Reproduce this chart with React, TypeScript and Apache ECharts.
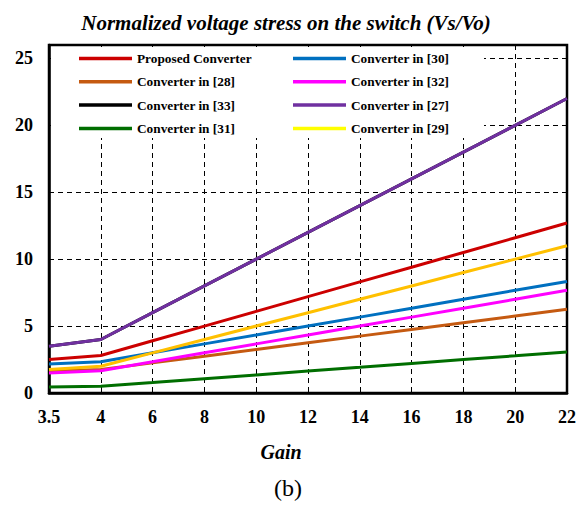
import React, { useEffect, useRef } from "react";
import * as echarts from "echarts";

const gains = ["3.5", "4", "6", "8", "10", "12", "14", "16", "18", "20", "22"];
const proposed = [2.5, 2.8, 3.9, 5.0, 6.1, 7.2, 8.3, 9.4, 10.5, 11.6, 12.7];
const conv30 = [2.17, 2.33, 3.0, 3.67, 4.33, 5.0, 5.67, 6.33, 7.0, 7.67, 8.33];
const conv28 = [1.63, 1.75, 2.25, 2.75, 3.25, 3.75, 4.25, 4.75, 5.25, 5.75, 6.25];
const conv32 = [1.5, 1.67, 2.33, 3.0, 3.67, 4.33, 5.0, 5.67, 6.33, 7.0, 7.67];
const conv33 = [3.5, 4, 6, 8, 10, 12, 14, 16, 18, 20, 22];
const conv27 = [3.5, 4, 6, 8, 10, 12, 14, 16, 18, 20, 22];
const conv31 = [0.45, 0.5, 0.78, 1.07, 1.35, 1.64, 1.92, 2.21, 2.5, 2.78, 3.07];
const conv29 = [1.75, 2, 3, 4, 5, 6, 7, 8, 9, 10, 11];
const yTicks = [0, 5, 10, 15, 20, 25];

const FONT = "'Liberation Serif', 'Times New Roman', serif";

export default function App() {
  const ref = useRef<HTMLDivElement>(null);
  useEffect(() => {
    document.body.style.margin = "0";
    if (!ref.current) return;
    const chart = echarts.init(ref.current, null, { renderer: "svg" });
    const mk = (name: string, data: number[], color: string) => ({
      name,
      type: "line",
      data,
      symbol: "none",
      lineStyle: { color, width: 3 },
      itemStyle: { color },
    });
    const legendBase = {
      orient: "vertical",
      top: 52,
      padding: 0,
      icon: "rect",
      itemWidth: 53,
      itemHeight: 3.5,
      itemGap: 10.3,
      textStyle: { fontFamily: FONT, fontWeight: "bold", fontSize: 13.3, color: "#000", lineHeight: 13 },
    };
    chart.setOption({
      animation: false,
      title: {
        text: "Normalized voltage stress on the switch (Vs/Vo)",
        left: 281,
        textAlign: "center",
        top: 7,
        textStyle: { fontFamily: FONT, fontWeight: "bold", fontStyle: "italic", fontSize: 21, color: "#000" },
      },
      grid: {
        left: 49,
        right: 20,
        top: 45,
        bottom: 113,
        show: true,
        borderColor: "#000",
        borderWidth: 2.5,
        backgroundColor: "transparent",
      },
      legend: [
        {
          ...legendBase,
          left: 79,
          data: ["Proposed Converter", "Converter in [28]", "Converter in [33]", "Converter in [31]"],
        },
        {
          ...legendBase,
          left: 293,
          data: [
            "Converter in [30]",
            "Converter in [32]",
            "Converter in [27]",
            { name: "Converter in [29]", itemStyle: { color: "#FFFF00" }, lineStyle: { color: "#FFFF00" } },
          ],
        },
      ],
      graphic: [
        { type: "rect", z: 1, shape: { x: 51, y: 47, width: 433, height: 91 }, style: { fill: "#fff" } },
        {
          type: "text",
          x: 281,
          y: 452,
          style: {
            text: "Gain",
            font: `italic bold 20px ${FONT}`,
            fill: "#000",
            align: "center",
            verticalAlign: "middle",
          },
        },
        {
          type: "text",
          x: 288,
          y: 488,
          style: { text: "(b)", font: `24px ${FONT}`, fill: "#000", align: "center", verticalAlign: "middle" },
        },
      ],
      xAxis: {
        type: "category",
        data: gains,
        boundaryGap: false,
        axisLine: { lineStyle: { color: "#000", width: 2.5 } },
        axisTick: { show: false },
        axisLabel: { fontFamily: FONT, fontWeight: "bold", fontSize: 18, color: "#000", margin: 15 },
        splitLine: { show: true, lineStyle: { color: "#000", type: [5, 4], width: 1 } },
      },
      yAxis: {
        type: "value",
        min: 0,
        max: 26,
        interval: 5,
        axisLine: { show: true, lineStyle: { color: "#000", width: 2.5 } },
        axisTick: { show: false },
        axisLabel: {
          fontFamily: FONT,
          fontWeight: "bold",
          fontSize: 18,
          color: "#000",
          margin: 16,
          formatter: (v: number) => (yTicks.includes(v) ? String(v) : ""),
        },
        splitLine: { show: true, lineStyle: { color: "#000", type: [5, 4], width: 1 } },
      },
      series: [
        mk("Converter in [31]", conv31, "#006E00"),
        mk("Converter in [28]", conv28, "#C55A11"),
        mk("Converter in [32]", conv32, "#FF00FF"),
        mk("Converter in [30]", conv30, "#0070C0"),
        mk("Converter in [29]", conv29, "#FFC000"),
        mk("Proposed Converter", proposed, "#CC0000"),
        mk("Converter in [33]", conv33, "#000000"),
        mk("Converter in [27]", conv27, "#7030A0"),
      ],
    });
    return () => chart.dispose();
  }, []);
  return <div ref={ref} style={{ width: 587, height: 506 }} />;
}
